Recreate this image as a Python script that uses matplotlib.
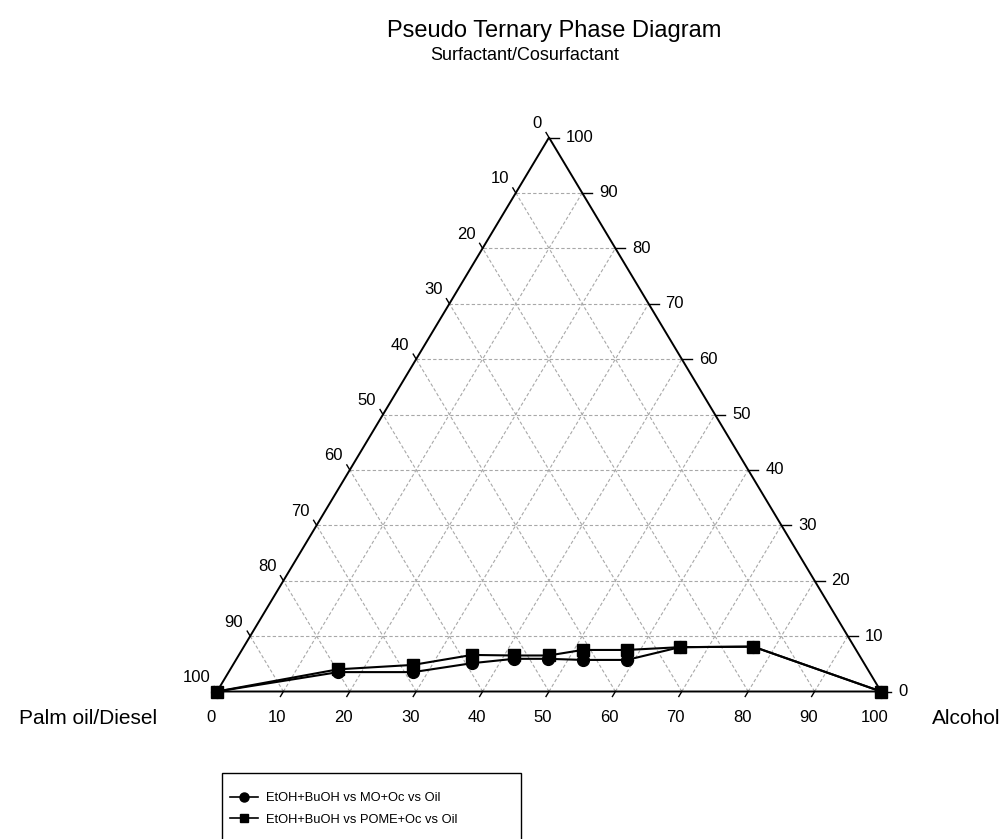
import matplotlib
matplotlib.use("Agg")
import matplotlib.pyplot as plt
from matplotlib.lines import Line2D
from matplotlib.patches import Rectangle

plt.rcParams["font.family"] = ["Liberation Sans", "DejaVu Sans"]

# ternary data: alcohol % (bottom axis) and surfactant/cosurfactant % (right axis), oil is the rest
alcohol_mo = [0, 16.5, 27.8, 35.8, 41.8, 46.9, 52.2, 58.9, 65.7, 76.7, 100]
surf_mo = [0, 3.5, 3.5, 5.1, 5.9, 5.9, 5.7, 5.7, 8.0, 8.1, 0]
alcohol_pome = [0, 16.2, 27.1, 35.1, 41.5, 46.7, 51.3, 58.0, 65.7, 76.7, 100]
surf_pome = [0, 4.0, 4.8, 6.6, 6.5, 6.5, 7.5, 7.5, 8.0, 8.1, 0]

series_labels = ["EtOH+BuOH vs MO+Oc vs Oil", "EtOH+BuOH vs POME+Oc vs Oil"]
tick_values = [0, 10, 20, 30, 40, 50, 60, 70, 80, 90, 100]
title = "Pseudo Ternary Phase Diagram"
top_label = "Surfactant/Cosurfactant"
left_label = "Palm oil/Diesel"
right_label = "Alcohol"

W, H = 1004, 839
# pixel scale of the triangle (side = 100 units)
sx, sy = 6.64, 5.54
x0, y0 = 217, 691.5


def to_xy(a, s):
    """(alcohol, surfactant) -> cartesian x, y"""
    xs = [ai + si / 2 for ai, si in zip(a, s)]
    return xs, list(s)


fig = plt.figure(figsize=(W / 100, H / 100), dpi=100)
ax = fig.add_axes([0, 0, 1, 1])
ax.set_xlim(-x0 / sx, (W - x0) / sx)
ax.set_ylim((y0 - H) / sy, y0 / sy)
ax.axis("off")

grid_kw = dict(color="#a8a8a8", lw=0.8, ls=(0, (3, 2)), zorder=1)
for v in tick_values[1:-1]:
    # constant surfactant
    ax.plot([v / 2, 100 - v / 2], [v, v], **grid_kw)
    # constant alcohol
    ax.plot([v, v + (100 - v) / 2], [0, 100 - v], **grid_kw)
    # constant oil
    c = 100 - v
    ax.plot([c, c / 2], [0, c], **grid_kw)

# triangle
ax.plot([0, 100, 50, 0], [0, 0, 100, 0], color="black", lw=1.4, zorder=2,
        solid_joinstyle="miter")

tick_kw = dict(color="black", lw=1.0, zorder=2)
tick_fs = 12
for v in tick_values:
    # bottom (alcohol)
    ax.plot([v, v - 0.45], [0, -0.9], **tick_kw)
    ax.text(v - 6 / sx, -26 / sy, str(v), ha="center", va="center", fontsize=tick_fs)
    # right (surfactant)
    xr = 100 - v / 2
    ax.plot([xr, xr + 1.5], [v, v], **tick_kw)
    ax.text(xr + 17 / sx, v, str(v), ha="left", va="center", fontsize=tick_fs)
    # left (oil)
    sl = 100 - v
    ax.plot([sl / 2, sl / 2 - 0.45], [sl, sl + 0.9], **tick_kw)
    ax.text(sl / 2 - 7 / sx, sl + 14 / sy, str(v), ha="right", va="center",
            fontsize=tick_fs)

# data
xm, ym = to_xy(alcohol_mo, surf_mo)
ax.plot(xm, ym, color="black", lw=1.5, marker="o", ms=8.5, zorder=3,
        label=series_labels[0])
xp, yp = to_xy(alcohol_pome, surf_pome)
ax.plot(xp, yp, color="black", lw=1.5, marker="s", ms=8, zorder=4,
        label=series_labels[1])

# titles and corner labels
fig.text(554 / W, 1 - 31 / H, title, ha="center", va="center", fontsize=17)
fig.text(525 / W, 1 - 55 / H, top_label, ha="center", va="center", fontsize=13)
fig.text(88 / W, 1 - 719 / H, left_label, ha="center", va="center", fontsize=15)
fig.text(966 / W, 1 - 719 / H, right_label, ha="center", va="center", fontsize=15)

# legend, box runs past the bottom edge like in the source image
handles = [Line2D([], [], color="black", lw=1.2, marker="o", ms=6.5),
           Line2D([], [], color="black", lw=1.2, marker="s", ms=5.5)]
fig.legend(handles, series_labels, loc="upper left",
           bbox_to_anchor=(230 / W, 1 - 792 / H), frameon=False, fontsize=9.3,
           handlelength=2.2, handletextpad=0.6, labelspacing=0.75,
           borderaxespad=0, borderpad=0)
fig.patches.append(Rectangle((222 / W, 1 - 850 / H), (521 - 222) / W, (850 - 773) / H,
                             transform=fig.transFigure, fill=False,
                             edgecolor="black", lw=1.0))

fig.savefig("out.png", dpi=100)
